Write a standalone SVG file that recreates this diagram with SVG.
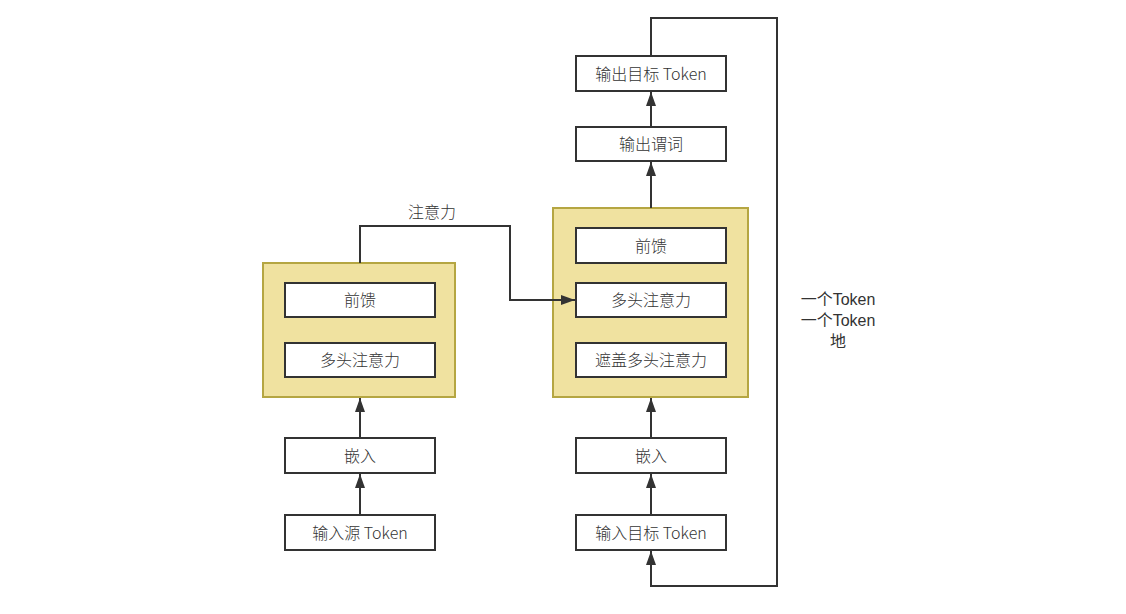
<svg xmlns="http://www.w3.org/2000/svg" width="1126" height="614" viewBox="0 0 1126 614">
<style>
.ctr{fill:#f0e2a0;stroke:#b5a642;stroke-width:2}
.box{fill:#fff;stroke:#333;stroke-width:2}
.t{font-family:"Noto Sans CJK SC","Liberation Sans",sans-serif;font-size:16px;font-weight:300;fill:#333;text-anchor:middle;dominant-baseline:central}
.lb{font-family:"Liberation Sans","Noto Sans CJK SC",sans-serif;font-weight:normal}
.c{fill:none;stroke:#333;stroke-width:2}
</style>
<defs>
<marker id="a" viewBox="0 0 14 10" refX="14" refY="5" markerWidth="14" markerHeight="10" orient="auto" markerUnits="userSpaceOnUse">
<path d="M0,0 L14,5 L0,10 z" fill="#333"/>
</marker>
</defs>
<rect width="1126" height="614" fill="#fff"/>
<g id="encoder">
<rect class="ctr" x="263" y="263" width="192" height="134"/>
</g>
<g id="decoder">
<rect class="ctr" x="553" y="208" width="195" height="189"/>
</g>
<g id="enc-ff"><rect class="box" x="285" y="283" width="150" height="34"/><text class="t" x="360" y="299">前馈</text></g>
<g id="enc-mha"><rect class="box" x="285" y="343" width="150" height="34"/><text class="t" x="360" y="359">多头注意力</text></g>
<g id="enc-emb"><rect class="box" x="285" y="438" width="150" height="35"/><text class="t" x="360" y="455">嵌入</text></g>
<g id="enc-in"><rect class="box" x="285" y="515" width="150" height="35"/><text class="t" x="360" y="532">输入源 Token</text></g>
<g id="dec-ff"><rect class="box" x="576" y="228" width="150" height="35"/><text class="t" x="651" y="245">前馈</text></g>
<g id="dec-mha"><rect class="box" x="576" y="283" width="150" height="34"/><text class="t" x="651" y="299">多头注意力</text></g>
<g id="dec-mmha"><rect class="box" x="576" y="343" width="150" height="34"/><text class="t" x="651" y="359">遮盖多头注意力</text></g>
<g id="dec-emb"><rect class="box" x="576" y="438" width="150" height="35"/><text class="t" x="651" y="455">嵌入</text></g>
<g id="dec-in"><rect class="box" x="576" y="515" width="150" height="35"/><text class="t" x="651" y="532">输入目标 Token</text></g>
<g id="pred"><rect class="box" x="576" y="127" width="150" height="34"/><text class="t" x="651" y="143">输出谓词</text></g>
<g id="out"><rect class="box" x="576" y="56" width="150" height="35"/><text class="t" x="651" y="73">输出目标 Token</text></g>
<g id="connectors">
<path class="c" d="M360,515 V474" marker-end="url(#a)"/>
<path class="c" d="M360,438 V398" marker-end="url(#a)"/>
<path class="c" d="M651,515 V474" marker-end="url(#a)"/>
<path class="c" d="M651,438 V398" marker-end="url(#a)"/>
<path class="c" d="M651,208 V162" marker-end="url(#a)"/>
<path class="c" d="M651,127 V92" marker-end="url(#a)"/>
<path class="c" d="M360,263 V226 H510 V300 H575" marker-end="url(#a)"/>
<path class="c" d="M651,56 V18 H777 V586 H651 V551" marker-end="url(#a)"/>
<text class="t" x="432" y="211">注意力</text>
<text class="t lb" x="838" y="299">一个Token</text>
<text class="t lb" x="838" y="320">一个Token</text>
<text class="t lb" x="838" y="341">地</text>
</g>
</svg>
